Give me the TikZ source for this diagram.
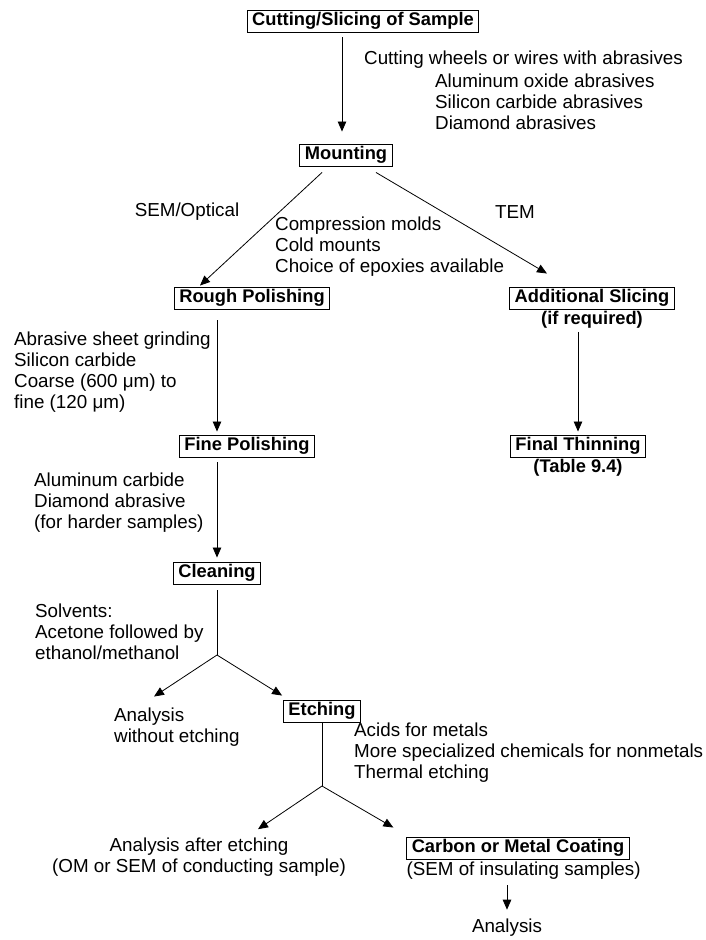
\documentclass[tikz,border=0pt]{standalone}
\usepackage{fontspec}
\setmainfont{Liberation Sans}
\usetikzlibrary{arrows.meta,
                positioning}
\tikzset{
        base/.style={font=\fontsize{18.8}{21}\selectfont},
        proc/.style={draw, line width=0.8pt, inner xsep=5pt, inner ysep=2.5pt,
                     font=\fontsize{18.3}{21}\selectfont\bfseries},
        note/.style={base, align=left, inner sep=0pt, anchor=west},
        sub/.style={inner sep=0pt, font=\fontsize{18.3}{21}\selectfont\bfseries},
        myarrow/.style={-{Triangle[length=10pt, width=8.5pt]}, line width=0.8pt},
        myline/.style={line width=0.8pt},
}

\begin{document}
\begin{tikzpicture}[x=1pt, y=-1pt]
    \useasboundingbox (0,0) rectangle (705,940);

    \node[proc] (cut) at (363,21) {Cutting/Slicing of Sample};
    \node[note] (wheels) at (364,60) {Cutting wheels or wires with abrasives};
    \node[note] (abr) at (435,102) {Aluminum oxide abrasives\\Silicon carbide abrasives\\Diamond abrasives};

    \node[proc] (mount) at (346,155) {Mounting};

    \node[base] (sem) at (187,212) {SEM/Optical};
    \node[base] (tem) at (515,212) {TEM};
    \node[note] (molds) at (275,247) {Compression molds\\Cold mounts\\Choice of epoxies available};

    \node[proc] (rough) at (252,298) {Rough Polishing};
    \node[proc] (addl) at (592,298) {Additional Slicing};
    \node[sub, below=2pt of addl] (ifreq) {(if required)};

    \node[note] (grind) at (14,372) {Abrasive sheet grinding\\Silicon carbide\\Coarse (600 μm) to\\fine (120 μm)};

    \node[proc] (fine) at (247,446) {Fine Polishing};
    \node[proc] (final) at (578,446) {Final Thinning};
    \node[sub, below=2pt of final] (table) {(Table 9.4)};

    \node[note] (harder) at (34,503) {Aluminum carbide\\Diamond abrasive\\(for harder samples)};

    \node[proc] (clean) at (217,573) {Cleaning};
    \node[note] (solv) at (35,632) {Solvents:\\Acetone followed by\\ethanol/methanol};
    \coordinate (split1) at (217,655);

    \node[note] (noetch) at (114,727) {Analysis\\without etching};
    \node[proc] (etch) at (322,711) {Etching};
    \node[note] (acids) at (354,753) {Acids for metals\\More specialized chemicals for nonmetals\\Thermal etching};
    \coordinate (split2) at (322,786);

    \node[base, align=center] (after) at (199,857) {Analysis after etching\\(OM or SEM of conducting sample)};
    \node[proc] (coat) at (518,848) {Carbon or Metal Coating};
    \node[base, inner sep=0pt, below right=2pt and 0pt of coat.south west] (insul) {(SEM of insulating samples)};

    \node[base] (ana) at (507,928) {Analysis};

    \draw[myarrow] ([xshift=-4pt,yshift=-5pt]cut.south -| mount) -- ([xshift=-4pt,yshift=12pt]mount.north);
    \draw[myarrow] ([xshift=-24pt,yshift=-6pt]mount.south) -- ([xshift=-52pt,yshift=1pt]rough.north);
    \draw[myarrow] ([xshift=30pt,yshift=-6pt]mount.south) -- ([xshift=-45pt,yshift=13pt]addl.north);

    \draw[myarrow] ([yshift=-11pt]rough.south -| clean) -- ([yshift=3pt]fine.north -| clean);
    \draw[myarrow] ([yshift=-3pt]ifreq.south -| final) -- ([yshift=3pt]final.north);
    \draw[myarrow] ([yshift=-5pt]fine.south -| clean) -- ([yshift=4pt]clean.north);

    \draw[myline] ([yshift=-6pt]clean.south) -- (split1);
    \draw[myarrow] (split1) -- ([xshift=40pt,yshift=11pt]noetch.north west);
    \draw[myarrow] (split1) -- ([xshift=-1pt,yshift=4pt]etch.north west);

    \draw[myline] ([yshift=-1pt]etch.south) -- (split2);
    \draw[myarrow] (split2) -- ([xshift=59pt,yshift=5pt]after.north);
    \draw[myarrow] (split2) -- ([xshift=-13pt,yshift=9pt]coat.north west);

    \draw[myarrow] ([yshift=-6pt]insul.south -| ana) -- ([yshift=6pt]ana.north);
\end{tikzpicture}
\end{document}
